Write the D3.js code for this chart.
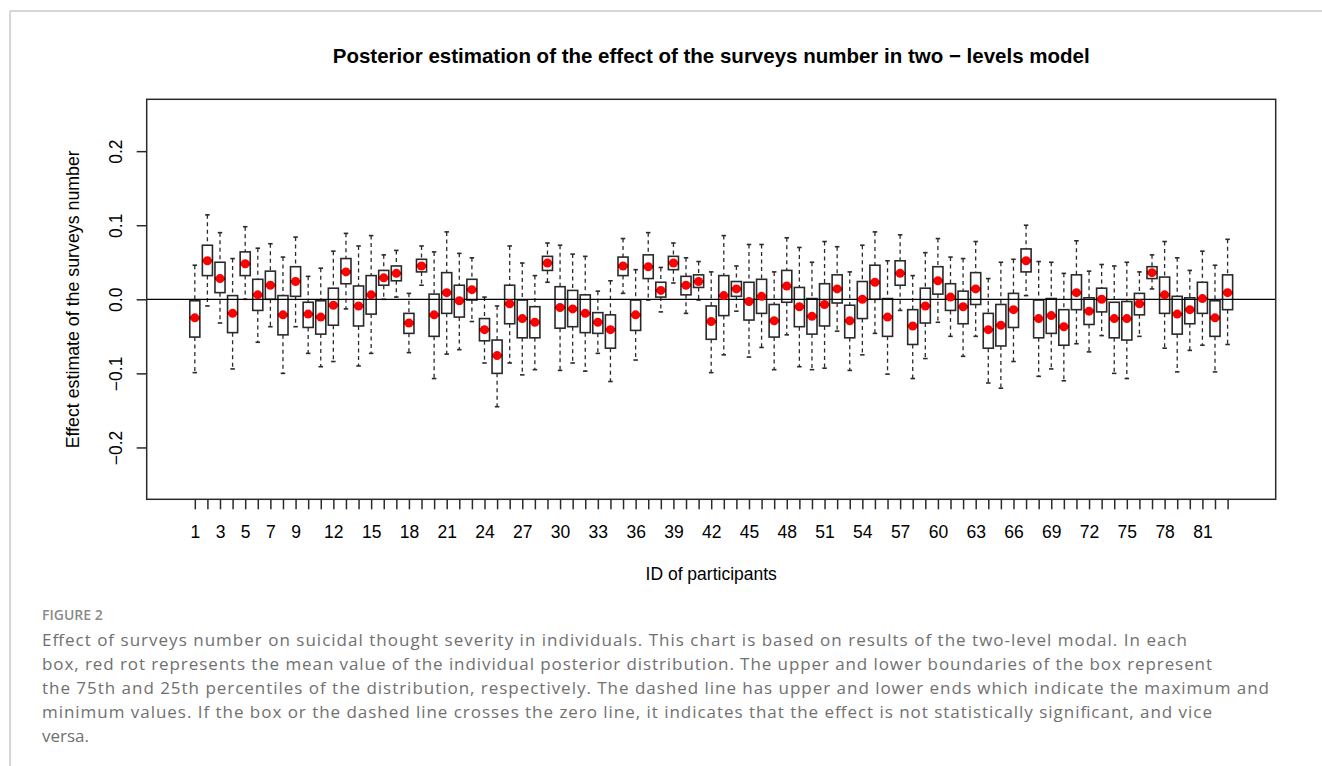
<!DOCTYPE html>
<html>
<head>
<meta charset="utf-8">
<script src="https://cdn.jsdelivr.net/npm/d3@7"></script>
<style>
  body { margin: 0; background: #fff; }
  svg { display: block; }
</style>
</head>
<body>
<div id="chart"></div>
<script>
/* values: one entry per participant (ID 1..83) */
var ids = d3.range(1, 84);
var whiskerHigh = [0.046,0.114,0.090,0.055,0.098,0.069,0.075,0.057,0.084,0.031,
  0.042,0.065,0.089,0.072,0.086,0.060,0.066,0.008,0.072,0.064,
  0.091,0.062,0.056,0.003,-0.009,0.072,0.049,0.032,0.076,0.073,
  0.061,0.058,0.011,0.025,0.082,0.040,0.090,0.043,0.076,0.056,
  0.051,0.037,0.086,0.045,0.074,0.074,0.037,0.083,0.070,0.050,
  0.078,0.071,0.037,0.073,0.091,0.052,0.087,0.032,0.063,0.082,
  0.057,0.055,0.078,0.028,0.050,0.054,0.100,0.051,0.050,0.035,
  0.079,0.038,0.047,0.045,0.050,0.037,0.060,0.078,0.056,0.039,
  0.065,0.046,0.081];
var upperQ = [-0.002,0.073,0.050,0.005,0.064,0.027,0.038,0.005,0.044,-0.004,
  -0.002,0.015,0.055,0.018,0.032,0.039,0.045,-0.019,0.054,0.007,
  0.036,0.019,0.027,-0.026,-0.055,0.019,-0.001,-0.010,0.058,0.017,
  0.012,0.006,-0.018,-0.021,0.057,-0.001,0.060,0.023,0.058,0.031,
  0.033,-0.009,0.032,0.024,0.023,0.027,-0.007,0.039,0.016,0.001,
  0.021,0.033,-0.008,0.024,0.046,0.001,0.052,-0.014,0.015,0.044,
  0.021,0.011,0.036,-0.019,-0.007,0.008,0.068,-0.001,0.001,-0.014,
  0.033,0.002,0.015,-0.004,-0.003,0.008,0.044,0.030,0.004,0.002,
  0.023,-0.002,0.033];
var means = [-0.025,0.052,0.028,-0.019,0.048,0.006,0.019,-0.021,0.024,-0.020,
  -0.024,-0.008,0.037,-0.009,0.006,0.029,0.035,-0.032,0.045,-0.021,
  0.009,-0.002,0.013,-0.041,-0.076,-0.006,-0.026,-0.031,0.049,-0.011,
  -0.013,-0.019,-0.031,-0.041,0.045,-0.021,0.044,0.012,0.049,0.019,
  0.024,-0.030,0.005,0.014,-0.003,0.004,-0.029,0.018,-0.010,-0.023,
  -0.007,0.014,-0.029,0.000,0.023,-0.024,0.035,-0.036,-0.009,0.025,
  0.003,-0.010,0.014,-0.041,-0.035,-0.014,0.052,-0.026,-0.022,-0.037,
  0.009,-0.016,0.000,-0.026,-0.026,-0.006,0.036,0.006,-0.020,-0.014,
  0.001,-0.025,0.009];
var lowerQ = [-0.051,0.032,0.009,-0.045,0.032,-0.015,0.000,-0.048,0.004,-0.038,
  -0.047,-0.035,0.021,-0.036,-0.020,0.019,0.025,-0.046,0.037,-0.050,
  -0.019,-0.024,-0.001,-0.056,-0.100,-0.033,-0.052,-0.052,0.039,-0.039,
  -0.037,-0.045,-0.046,-0.066,0.032,-0.042,0.028,0.003,0.040,0.006,
  0.016,-0.054,-0.022,0.004,-0.028,-0.019,-0.051,-0.004,-0.037,-0.047,
  -0.036,-0.005,-0.052,-0.026,0.000,-0.050,0.019,-0.061,-0.032,0.007,
  -0.015,-0.033,-0.007,-0.066,-0.063,-0.038,0.037,-0.052,-0.046,-0.062,
  -0.014,-0.034,-0.017,-0.052,-0.055,-0.021,0.028,-0.019,-0.047,-0.033,
  -0.019,-0.050,-0.014];
var whiskerLow = [-0.099,-0.009,-0.032,-0.094,0.000,-0.058,-0.037,-0.100,-0.037,-0.073,
  -0.091,-0.084,-0.013,-0.090,-0.073,0.000,0.003,-0.072,0.019,-0.107,
  -0.074,-0.068,-0.030,-0.086,-0.145,-0.086,-0.102,-0.095,0.023,-0.096,
  -0.086,-0.097,-0.073,-0.111,0.008,-0.082,-0.001,-0.017,0.022,-0.019,
  -0.001,-0.099,-0.075,-0.016,-0.078,-0.065,-0.095,-0.048,-0.091,-0.095,
  -0.093,-0.043,-0.096,-0.075,-0.046,-0.101,-0.015,-0.107,-0.080,-0.031,
  -0.050,-0.077,-0.050,-0.113,-0.120,-0.084,0.005,-0.104,-0.094,-0.110,
  -0.060,-0.071,-0.049,-0.100,-0.107,-0.050,0.014,-0.066,-0.098,-0.069,
  -0.062,-0.098,-0.061];
var shownLabels = [1,3,5,7,9,12,15,18,21,24,27,30,33,36,39,42,45,48,51,54,57,60,63,66,69,72,75,78,81];
var yTicks = [-0.2, -0.1, 0, 0.1, 0.2];

var captionHead = "FIGURE 2";
var captionLines = [
  "Effect of surveys number on suicidal thought severity in individuals. This chart is based on results of the two-level modal. In each",
  "box, red rot represents the mean value of the individual posterior distribution. The upper and lower boundaries of the box represent",
  "the 75th and 25th percentiles of the distribution, respectively. The dashed line has upper and lower ends which indicate the maximum and",
  "minimum values. If the box or the dashed line crosses the zero line, it indicates that the effect is not statistically significant, and vice",
  "versa."
];
var captionWidths = [1145, 1170, 1227, 1170, null];

var rows = ids.map(function(id, i) {
  return {id: id, hi: whiskerHigh[i], q3: upperQ[i], m: means[i], q1: lowerQ[i], lo: whiskerLow[i]};
});

/* plot region */
const W = 1322, H = 766;
const plot = {left: 146.7, right: 1275.7, top: 99.3, bottom: 499.3};

var svg = d3.select("#chart").append("svg")
  .attr("width", W).attr("height", H);

// page frame lines
svg.append("line").attr("x1", 10).attr("x2", W).attr("y1", 11).attr("y2", 11)
  .attr("stroke", "#c9c9c9").attr("stroke-width", 1.5);
svg.append("line").attr("x1", 10).attr("x2", 10).attr("y1", 11).attr("y2", H)
  .attr("stroke", "#c9c9c9").attr("stroke-width", 1.5);

// R-style limits: (0.5, n+0.5) and (-0.25, 0.25), each widened 4%
var x = d3.scaleLinear().domain([-2.82, 86.82]).range([plot.left, plot.right]);
var y = d3.scaleLinear().domain([-0.27, 0.27]).range([plot.bottom, plot.top]);

var unit = x(2) - x(1);
var boxW = unit * 0.8, capW = 4.5;

var font = "'Liberation Sans', Arial, sans-serif";
var ink = "#2a2a2a";

// title
svg.append("text")
  .attr("x", (plot.left + plot.right) / 2).attr("y", 63)
  .attr("text-anchor", "middle")
  .attr("font-family", font).attr("font-weight", "bold").attr("font-size", "20.5px")
  .attr("fill", "#000")
  .text("Posterior estimation of the effect of the surveys number in two \u2212 levels model");

/* boxes */
var g = svg.append("g");
var box = g.selectAll("g.box").data(rows).enter().append("g").attr("class", "box");

box.append("line")
  .attr("x1", d => x(d.id)).attr("x2", d => x(d.id))
  .attr("y1", d => y(d.hi)).attr("y2", d => y(d.q3))
  .attr("stroke", ink).attr("stroke-width", 1.3).attr("stroke-dasharray", "4,3.5");
box.append("line")
  .attr("x1", d => x(d.id)).attr("x2", d => x(d.id))
  .attr("y1", d => y(d.q1)).attr("y2", d => y(d.lo))
  .attr("stroke", ink).attr("stroke-width", 1.3).attr("stroke-dasharray", "4,3.5");
box.append("line")
  .attr("x1", d => x(d.id) - capW / 2).attr("x2", d => x(d.id) + capW / 2)
  .attr("y1", d => y(d.hi)).attr("y2", d => y(d.hi))
  .attr("stroke", ink).attr("stroke-width", 1.6);
box.append("line")
  .attr("x1", d => x(d.id) - capW / 2).attr("x2", d => x(d.id) + capW / 2)
  .attr("y1", d => y(d.lo)).attr("y2", d => y(d.lo))
  .attr("stroke", ink).attr("stroke-width", 1.6);
box.append("rect")
  .attr("x", d => x(d.id) - boxW / 2).attr("width", boxW)
  .attr("y", d => y(d.q3)).attr("height", d => y(d.q1) - y(d.q3))
  .attr("fill", "#fff").attr("stroke", ink).attr("stroke-width", 1.6);
box.append("line")
  .attr("x1", d => x(d.id) - boxW / 2).attr("x2", d => x(d.id) + boxW / 2)
  .attr("y1", d => y(d.m)).attr("y2", d => y(d.m))
  .attr("stroke", "#000").attr("stroke-width", 3);

// zero line
svg.append("line")
  .attr("x1", plot.left).attr("x2", plot.right)
  .attr("y1", y(0)).attr("y2", y(0))
  .attr("stroke", "#000").attr("stroke-width", 1.3);

// mean points
svg.append("g").selectAll("circle").data(rows).enter().append("circle")
  .attr("cx", d => x(d.id)).attr("cy", d => y(d.m)).attr("r", 4.5)
  .attr("fill", "#ff0000");

// frame
svg.append("rect")
  .attr("x", plot.left).attr("y", plot.top)
  .attr("width", plot.right - plot.left).attr("height", plot.bottom - plot.top)
  .attr("fill", "none").attr("stroke", ink).attr("stroke-width", 1.5);

/* axes */
var xAxis = svg.append("g")
  .attr("transform", "translate(0," + plot.bottom + ")")
  .call(d3.axisBottom(x).tickValues(ids).tickSize(10).tickPadding(16)
    .tickFormat(d => shownLabels.indexOf(d) >= 0 ? d : ""));
xAxis.select(".domain").remove();
xAxis.selectAll("line").attr("stroke", ink).attr("stroke-width", 1.5);
xAxis.selectAll("text").attr("font-family", font).attr("font-size", "17.5px").attr("fill", "#000");

var yAxis = svg.append("g")
  .attr("transform", "translate(" + plot.left + ",0)")
  .call(d3.axisLeft(y).tickValues(yTicks).tickSize(10).tickFormat(d3.format(".1f")));
yAxis.select(".domain").remove();
yAxis.selectAll("line").attr("stroke", ink).attr("stroke-width", 1.5);
yAxis.selectAll("text")
  .attr("font-family", font).attr("font-size", "17.5px").attr("fill", "#000")
  .attr("transform", "rotate(-90)")
  .attr("x", 0).attr("y", -25).attr("dy", 0)
  .style("text-anchor", "middle");

svg.append("text")
  .attr("x", (plot.left + plot.right) / 2).attr("y", 580)
  .attr("text-anchor", "middle")
  .attr("font-family", font).attr("font-size", "17.5px").attr("fill", "#000")
  .text("ID of participants");

svg.append("text")
  .attr("transform", "translate(79," + ((plot.top + plot.bottom) / 2) + ") rotate(-90)")
  .attr("text-anchor", "middle")
  .attr("font-family", font).attr("font-size", "17.8px").attr("fill", "#000")
  .text("Effect estimate of the surveys number");

/* caption */
svg.append("text")
  .attr("x", 42).attr("y", 620)
  .attr("font-family", "'Open Sans', sans-serif").attr("font-weight", 600)
  .attr("font-size", "14px").attr("fill", "#8a8a8a")
  .text(captionHead);

svg.append("g").selectAll("text").data(captionLines).enter().append("text")
  .attr("x", 42).attr("y", (d, i) => 646 + 24 * i)
  .attr("font-family", "'Open Sans', sans-serif").attr("font-size", "17px")
  .attr("fill", "#707070")
  .each(function(d, i) {
    if (captionWidths[i]) d3.select(this).attr("textLength", captionWidths[i]).attr("lengthAdjust", "spacing");
  })
  .text(d => d);
</script>
</body>
</html>
